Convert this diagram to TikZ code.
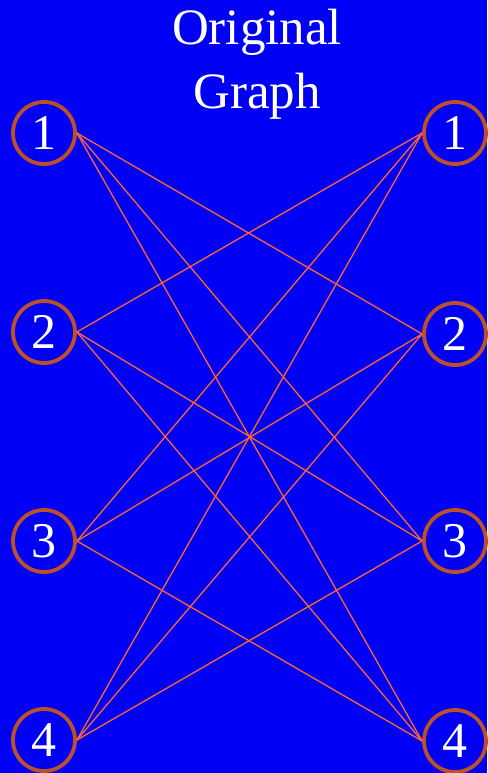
\documentclass[tikz,border=0pt]{standalone}
\usepackage{fontspec}
\setmainfont{Liberation Serif}
\definecolor{bgblue}{RGB}{0,0,245}
\definecolor{ring}{RGB}{190,80,40}
\definecolor{edgec}{RGB}{255,100,50}
\begin{document}
\begin{tikzpicture}[x=1pt,y=-1pt,
  vert/.style={circle,draw=ring,line width=3.8pt,minimum size=62pt,inner sep=0pt,text=white,font=\fontsize{50}{50}\selectfont},
  edge/.style={draw=edgec,line width=1.3pt},
  title/.style={text=white,font=\fontsize{51}{64}\selectfont,align=center}]
\fill[bgblue] (0,0) rectangle (487,773);
\useasboundingbox (0,0) rectangle (487,773);
\node[title] (t) at (257,64) {Original\\Graph};
\node[vert] (L1) at (44,133) {1};
\node[vert] (L2) at (44,332) {2};
\node[vert] (L3) at (44,541) {3};
\node[vert] (L4) at (44,740) {4};
\node[vert] (R1) at (455,133) {1};
\node[vert] (R2) at (455,334) {2};
\node[vert] (R3) at (455,541) {3};
\node[vert] (R4) at (455,741) {4};
\foreach \a/\b in {1/2,1/3,1/4,2/1,2/3,2/4,3/1,3/2,3/4,4/1,4/2,4/3}
  \draw[edge] (L\a.east) -- (R\b.west);
\end{tikzpicture}
\end{document}
